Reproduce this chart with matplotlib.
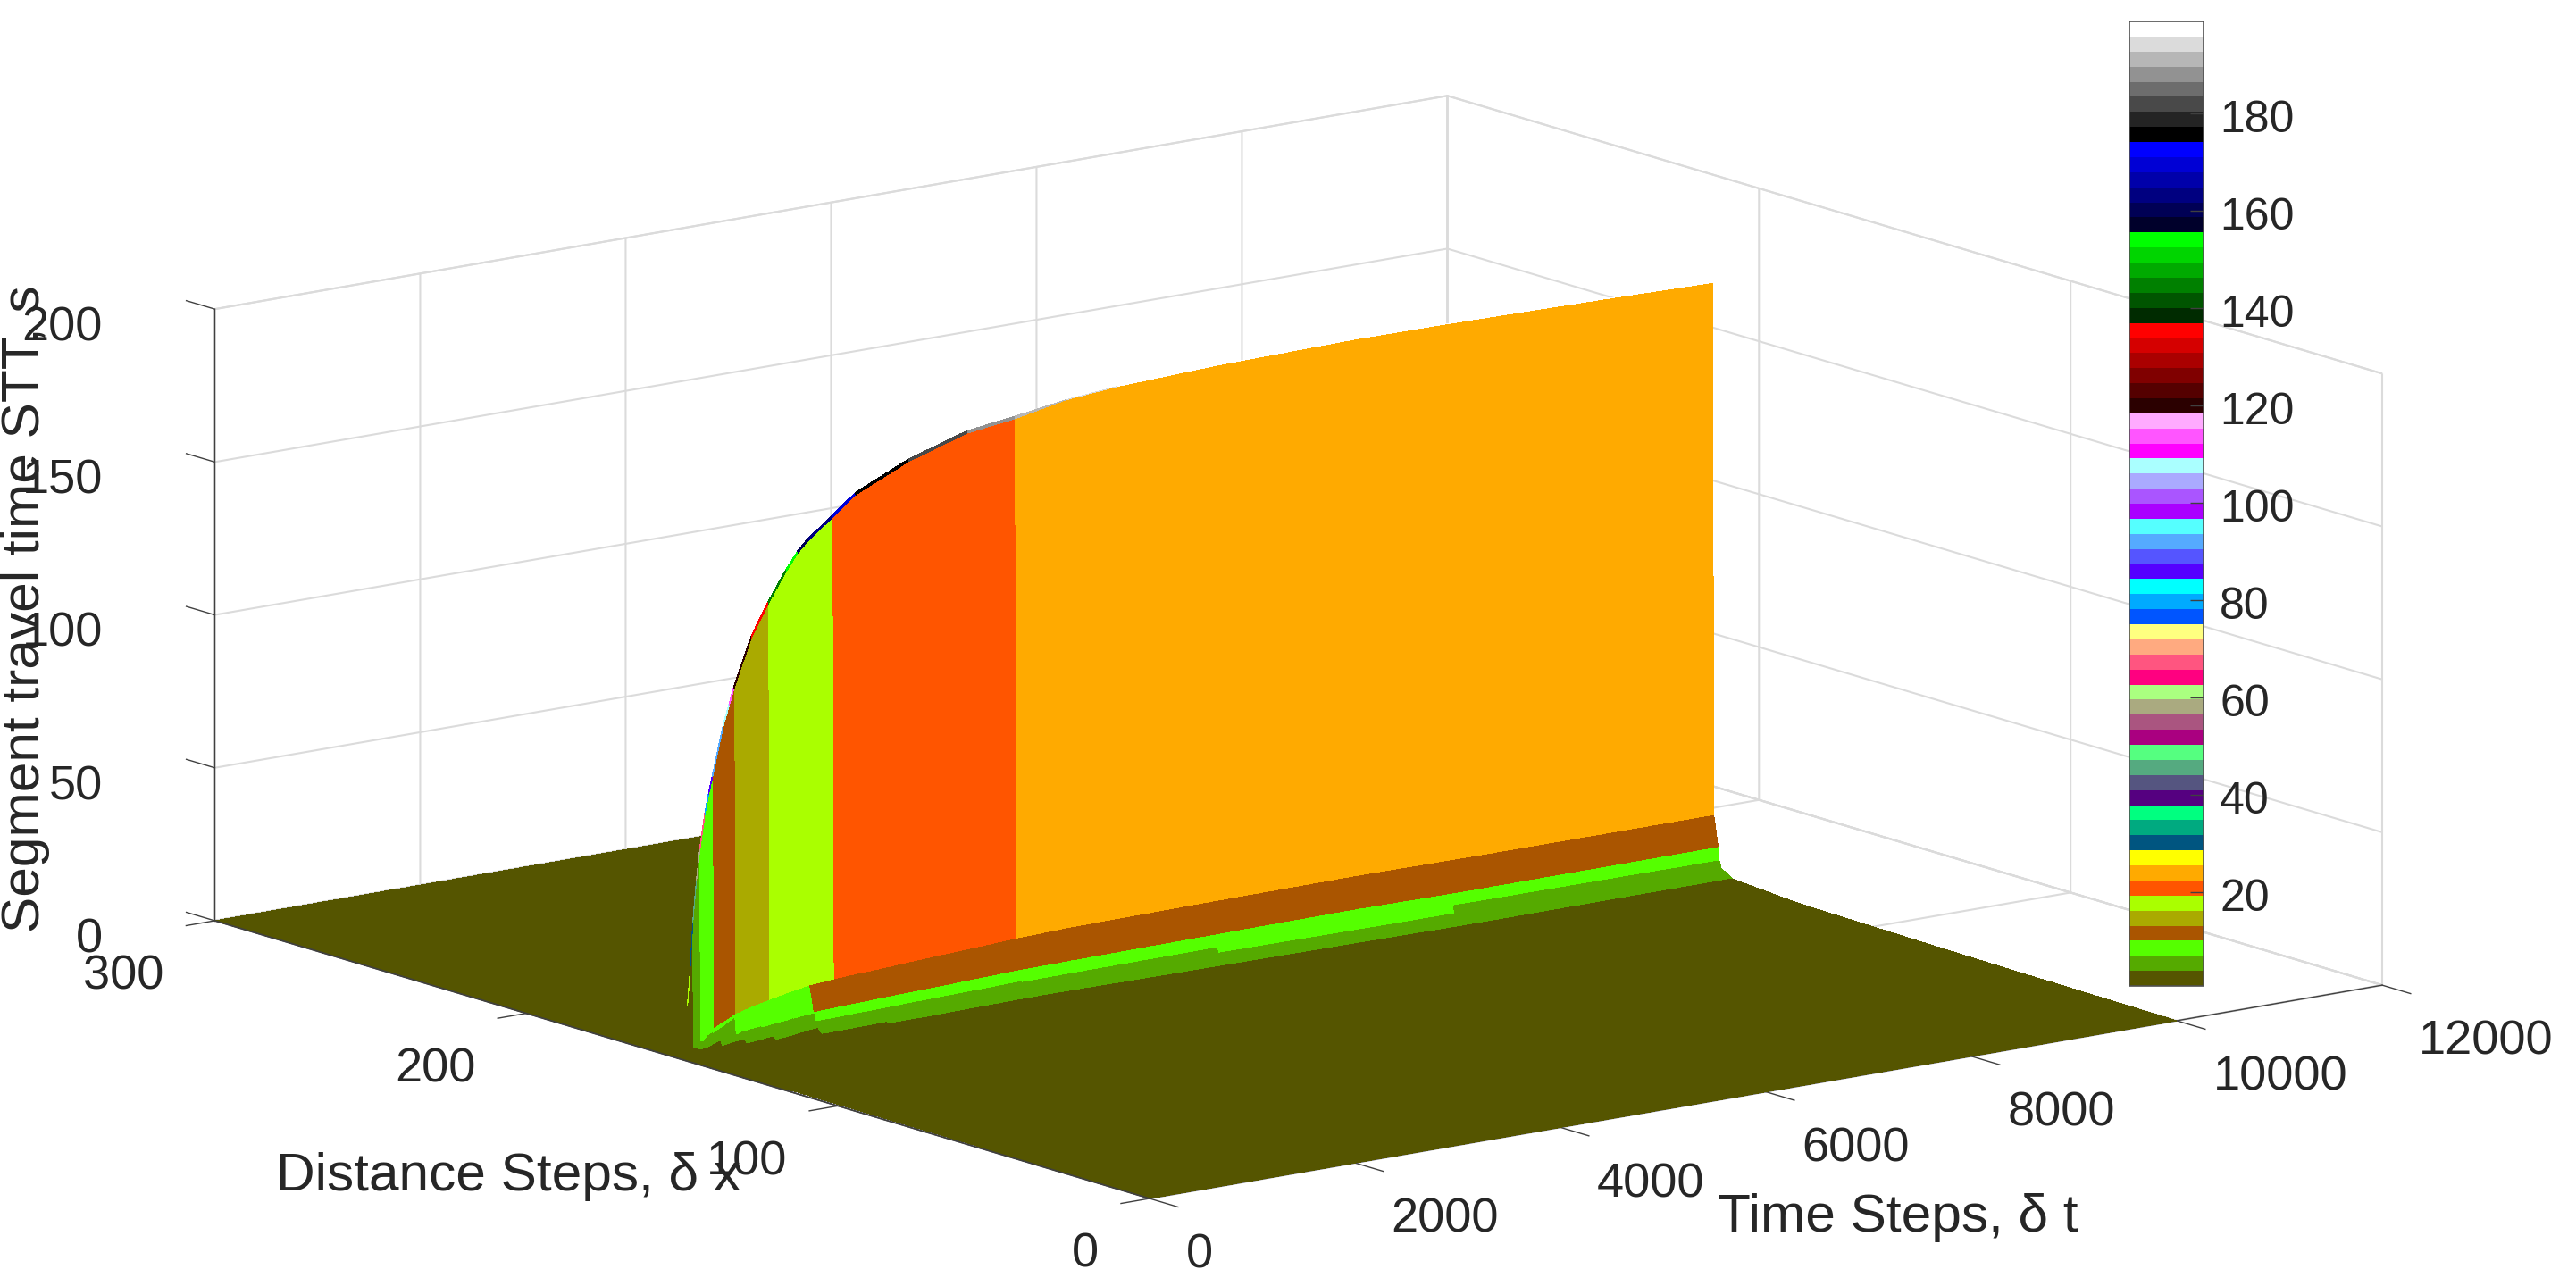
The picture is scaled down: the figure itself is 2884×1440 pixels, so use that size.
import numpy as np
import matplotlib
matplotlib.use("Agg")
import matplotlib.pyplot as plt
from matplotlib.colors import ListedColormap, Normalize
from matplotlib.cm import ScalarMappable
from matplotlib.transforms import ScaledTranslation
from mpl_toolkits.mplot3d import proj3d

plt.rcParams['font.family'] = ['Liberation Sans', 'DejaVu Sans']
TEXT = '#262626'

# ---------- data ----------
t_steps = np.array([0, 22, 48, 74, 109, 143, 144, 190, 228, 229, 265, 370, 426, 427, 474, 475, 640, 680, 681, 804,
                    978, 1087, 1088, 1190, 1191, 1430, 1650, 1757, 1758, 2170, 2740, 3204, 3700, 4200, 5104, 5350,
                    6500, 7400, 7670, 9000, 10000], float)
front_spread = np.array([0, .15, .25, .35, .4, .45, .45, .5, .55, .55, .6, .7, .75, .75, .8, .8, .9, .9, .9, .95,
                         1, 1, 1, 1, 1, 1, 1, 1, 1, 1, 1, 1, 1, 1, 1, 1, 1, 1, 1, 1, 1])
stt_ridge = np.array([0, 18.7, 30, 45.5, 59, 69, 69.3, 80, 86.5, 86.7, 92, 108, 114.3, 114.4, 119.7, 119.8, 135, 137.5,
                      137.6, 145.3, 154.8, 160, 160.1, 163.7, 163.7, 170, 176, 177.7, 177.7, 184, 190, 192, 194.5,
                      196, 197.2, 197.4, 198, 197.8, 197.7, 197, 196.3])
stt_a = np.array([0, 1.5, 3, 3.85, 4.76, 5.6, 5.7, 6.95, 7.9, 7.9, 9.3, 10.9, 11.9, 11.9, 12.7, 12.7, 14.2, 14.5, 14.5,
                  15.4, 16.6, 17.2, 17.2, 17.9, 17.9, 18.5, 18.9, 19, 19, 19.8, 20.7, 21.5, 22, 22.2, 22.45, 22.5,
                  22.7, 22.5, 22.45, 22.4, 22.4])
stt_b = np.array([0, 1.3, 2.8, 3.7, 4.7, 5.5, 5.5, 7.2, 7.9, 7.9, 8.9, 10.8, 12, 11, 9.7, 9.7, 10.9, 11, 11, 11.7,
                  12.6, 13, 12, 9.6, 9.6, 9.9, 10.1, 10.25, 10.25, 10.65, 11.2, 11.7, 11.85, 12, 12.2, 12.3, 12.5,
                  12.2, 12.2, 12.3, 12.4])
stt_c = np.array([0, 1.2, 2.6, 3.5, 4.6, 5.4, 5.4, 7.25, 8, 8, 8.75, 10.8, 12.1, 6.6, 6.7, 6.7, 7.5, 7.6, 7.6, 8.05,
                  8.7, 9.05, 9.05, 9.35, 6.3, 6.4, 6.6, 6.65, 6.65, 7, 7.4, 7.75, 7.9, 7.95, 8.1, 8.15, 8.3, 8.45,
                  8.4, 8.25, 8.1])
stt_d = np.array([0, 1.2, 2.7, 3.6, 4.5, 5, 5, 5.8, 6.2, 5, 5.2, 5.8, 6, 5.2, 5.3, 5.3, 6, 6, 5, 5.5, 6.3, 6.5, 5,
                  5.2, 5.2, 5.4, 5.5, 5.6, 5.6, 5.8, 6, 6.1, 6.2, 6.25, 6.25, 6.2, 5.95, 5.8, 5.8, 5.7, 5.6])
stt_e = np.array([0, 1.5, 3, 3.8, 3.85, 4.3, 4.3, 5.3, 6, 4.2, 4.45, 5.4, 5.7, 4.2, 4.5, 4.5, 5.4, 5.5, 4.2, 4.7,
                  5.7, 6.1, 4, 3.9, 3.9, 4, 4.1, 4.2, 3.6, 3.6, 3.9, 4.05, 4, 3.8, 3.6, 3.55, 3.3, 3.1, 3.07, 3.2,
                  3.27])
stt_f_end = 3.0
ridge_y = 149.0
row_offsets = [9.0, 6.5, 2.8, 2.1, 1.8, 0.4, 0.02, 0.0]          # F E D C B A S R, distance steps before the ridge
tail_y = np.array([0, 50, 60, 110, 120, 125.5])
tail_stt_end = np.array([0, .5, .6, 1.4, 1.6, 1.9])
tail_stt_start = np.array([0, 0, .9, .9, 0, 0])
wall_band_t = np.array([0, 74, 143, 265, 474, 804, 1430, 3204])
wall_band_stt = np.array([2, 5, 8, 11, 14, 17, 20, 24], float)

x_ticks = [0, 2000, 4000, 6000, 8000, 10000, 12000]
y_ticks = [0, 100, 200, 300]
z_ticks = [0, 50, 100, 150, 200]
cb_ticks = [20, 40, 60, 80, 100, 120, 140, 160, 180]
v_min, v_max = 0.66, 198.9

# MATLAB colorcube(64), from the colorbar
cube = [(85,85,0),(85,170,0),(85,255,0),(170,85,0),(170,170,0),(170,255,0),(255,85,0),(255,170,0),(255,255,0),
        (0,85,128),(0,170,128),(0,255,128),(85,0,128),(85,85,128),(85,170,128),(85,255,128),(170,0,128),(170,85,128),
        (170,170,128),(170,255,128),(255,0,128),(255,85,128),(255,170,128),(255,255,128),
        (0,85,255),(0,170,255),(0,255,255),(85,0,255),(85,85,255),(85,170,255),(85,255,255),(170,0,255),(170,85,255),
        (170,170,255),(170,255,255),(255,0,255),(255,85,255),(255,170,255),
        (43,0,0),(85,0,0),(128,0,0),(170,0,0),(213,0,0),(255,0,0),
        (0,43,0),(0,85,0),(0,128,0),(0,170,0),(0,213,0),(0,255,0),
        (0,0,43),(0,0,85),(0,0,128),(0,0,170),(0,0,213),(0,0,255),
        (0,0,0),(36,36,36),(73,73,73),(109,109,109),(146,146,146),(182,182,182),(219,219,219),(255,255,255)]
cmap = ListedColormap(np.array(cube) / 255.0)
norm = Normalize(v_min, v_max)

# ---------- build surface ----------
t = t_steps
wall_val = wall_band_stt[np.searchsorted(wall_band_t, t, side='right') - 1]
stt_s = np.where(t < 3700, np.maximum(stt_ridge - 0.8, 0), stt_ridge - 0.01)
stt_f = stt_f_end * front_spread

near_z = np.array([stt_f, stt_e, stt_d, stt_c, stt_b, stt_a, stt_s, stt_ridge])
near_y = np.array([ridge_y - d * front_spread for d in row_offsets])
near_x = np.tile(t, (near_z.shape[0], 1))
near_c = np.array([
    np.full_like(t, 2.0),
    np.where(t >= 74, 5.0, 2.0),
    np.where((t >= 5104) & (t < 7400), 8.0, np.where(t >= 74, 5.0, 2.0)),
    np.where(t >= 143, 8.0, wall_val),
    np.where(t >= 1190, 11.0, np.where(t >= 143, 8.0, wall_val)),
    wall_val,
    stt_s,
    stt_ridge,
])

front_z = np.vstack([np.outer(tail_stt_end, front_spread), stt_f])
front_z[:-1, 0] = tail_stt_start
front_y = np.vstack([np.tile(tail_y[:, None], (1, t.size)), near_y[0]])
front_x = np.tile(t, (front_z.shape[0], 1))

back_y, back_x = np.meshgrid([ridge_y + .05, 300.0], [0.0, 10000.0], indexing='ij')
back_z = np.zeros_like(back_x)

# ---------- figure ----------
fig = plt.figure(figsize=(28.84, 14.40), dpi=100, facecolor='white')
ax = fig.add_axes([0, 0, 1, 1], projection='3d', computed_zorder=False)
ax.set_proj_type('ortho')
ax.view_init(elev=13.11, azim=-127.35)
ax.set_box_aspect((1735.6, 1724.7, 703))
ax.patch.set_alpha(0)

olive = cmap(norm(2.0))
ax.plot_surface(back_x, back_y, back_z, color=olive, shade=False, rstride=1, cstride=1,
                linewidth=0, antialiased=False, zorder=1)
ax.plot_surface(near_x, near_y, near_z, facecolors=cmap(norm(near_c)), shade=False, rstride=1, cstride=1,
                linewidth=0, antialiased=False, zorder=2)
ax.plot_surface(front_x, front_y, front_z, color=olive, shade=False, rstride=1, cstride=1,
                linewidth=0, antialiased=False, zorder=3)
ax.plot([0, 0], [0, 300], [0, 0], color='#404040', lw=1.2, zorder=5)

ax.set_xlim(0, 12000, view_margin=0)
ax.set_ylim(0, 300, view_margin=0)
ax.set_zlim(0, 200, view_margin=0)
ax.set_xticks(x_ticks)
ax.set_yticks(y_ticks)
ax.set_zticks(z_ticks)
ax.set_xticklabels([str(v) for v in x_ticks])
ax.set_yticklabels([str(v) for v in y_ticks])
ax.set_zticklabels([str(v) for v in z_ticks])

GRID = (0.86, 0.86, 0.86, 1)
for axis in (ax.xaxis, ax.yaxis, ax.zaxis):
    axis.set_pane_color((1, 1, 1, 1))
    axis.pane.set_edgecolor(GRID)
    axis.pane.set_linewidth(1.5)
    axis._axinfo['grid'].update(color=GRID, linewidth=1.5)
    axis._axinfo['tick']['linewidth'] = {True: 1.0, False: 1.0}
    axis.line.set_color('#404040')
    axis.line.set_linewidth(1.0)
    axis.set_rotate_label(False)
ax.xaxis._axinfo['tick'].update(inward_factor=0.38, outward_factor=0)
ax.yaxis._axinfo['tick'].update(inward_factor=0.29, outward_factor=0)
ax.zaxis._axinfo['tick'].update(inward_factor=0, outward_factor=0.38)
ax.zaxis._get_tickdir = lambda pos: 1

ax.tick_params(axis='both', labelsize=39, labelcolor=TEXT, color='#404040')
ax.tick_params(axis='x', pad=28)
ax.tick_params(axis='y', pad=30)
ax.tick_params(axis='z', pad=40)

ax.set_xlabel('Time Steps, δ t', fontsize=43.5, color=TEXT, rotation=0, labelpad=110)
ax.set_ylabel('Distance Steps, δ x', fontsize=43.5, color=TEXT, rotation=0, labelpad=110)
ax.set_zlabel('Segment travel time STT, s', fontsize=43.5, color=TEXT, rotation=90, labelpad=60)

def nudge(artist, dx_px, dy_px):
    artist.set_transform(artist.get_transform() + ScaledTranslation(dx_px / 100, dy_px / 100, fig.dpi_scale_trans))

for tick in ax.xaxis.get_major_ticks():
    tick.label1.set_ha('left')
    nudge(tick.label1, 15, 12)
for tick in ax.yaxis.get_major_ticks():
    tick.label1.set_ha('right')
    nudge(tick.label1, 15, 11)
for tick in ax.zaxis.get_major_ticks():
    tick.label1.set_ha('right')
    nudge(tick.label1, 74, 26)
nudge(ax.xaxis.label, -79, -18)
nudge(ax.yaxis.label, 193, -29)

# place the projected box on the figure
W, H = fig.get_size_inches() * fig.dpi
targets = {'front': (1287, H - 1342), 'right': (2667, H - 1103)}
def screen(x, y, z):
    xs, ys, _ = proj3d.proj_transform(x, y, z, ax.get_proj())
    return ax.transData.transform((xs, ys))
S0 = 2600.0
for _ in range(3):
    ax.set_position([(W / 2 - S0 / 2) / W, (H / 2 - S0 / 2) / H, S0 / W, S0 / H])
    ax.apply_aspect()
    p0, p1 = screen(0, 0, 0), screen(12000, 0, 0)
    S0 *= (targets['right'][0] - targets['front'][0]) / (p1[0] - p0[0])
ax.set_position([(W / 2 - S0 / 2) / W, (H / 2 - S0 / 2) / H, S0 / W, S0 / H])
ax.apply_aspect()
p0 = screen(0, 0, 0)
dx, dy = targets['front'][0] - p0[0], targets['front'][1] - p0[1]
ax.set_position([(W / 2 - S0 / 2 + dx) / W, (H / 2 - S0 / 2 + dy) / H, S0 / W, S0 / H])

# ---------- colorbar ----------
cax = fig.add_axes([2384 / W, (H - 1104) / H, 83 / W, 1080 / H])
cb = fig.colorbar(ScalarMappable(norm=norm, cmap=cmap), cax=cax, ticks=cb_ticks, drawedges=False)
cb.ax.tick_params(direction='in', length=11, width=1, color='#404040', labelsize=36, labelcolor=TEXT, pad=13,
                  right=True, left=False)
cb.outline.set_edgecolor('#505050')
cb.outline.set_linewidth(1.2)
cb.minorticks_off()
for lab in cb.ax.get_yticklabels():
    nudge(lab, 0, -3)

fig.savefig('out.png', dpi=100, facecolor='white')
